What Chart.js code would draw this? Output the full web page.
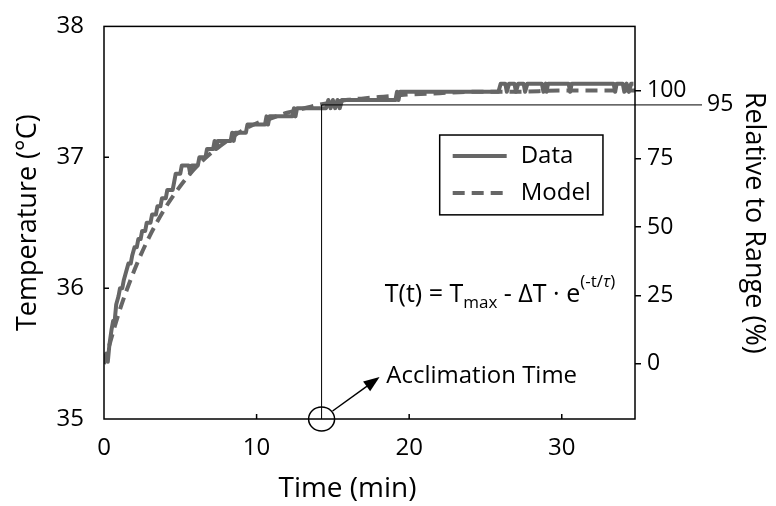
<!DOCTYPE html>
<html>
<head>
  <title>Acclimation Time</title>
  <script src="https://cdn.jsdelivr.net/npm/chart.js"></script>
  <style>body { margin: 0; background: #fff; }</style>
</head>
<body>
<canvas id="myChart" width="776" height="506"></canvas>
<script>
// measured temperature (sensor steps of 1/16 degC)
const timeMin = [0.00, 0.15, 0.25, 0.35, 0.50, 0.60, 0.70, 0.80, 0.95, 1.05, 1.20, 1.30, 1.45, 1.60, 1.75, 1.85,
  2.00, 2.15, 2.25, 2.40, 2.50, 2.70, 2.80, 3.05, 3.15, 3.40, 3.50, 3.70, 3.80, 4.05, 4.15, 4.50, 4.60, 4.70,
  5.00, 5.10, 5.55, 5.65, 5.75, 6.15, 6.25, 6.65, 6.75, 7.15, 7.25, 7.35, 7.45, 8.30, 8.40, 8.50, 8.60, 9.30,
  9.40, 10.55, 10.65, 10.75, 10.85, 12.35, 12.45, 12.55, 12.65, 14.55, 14.70, 14.85, 15.00, 15.15, 15.30,
  15.45, 15.60, 19.10, 19.20, 19.30, 19.40, 25.85, 26.00, 26.30, 26.40, 26.55, 26.90, 27.00, 27.15, 27.50,
  27.60, 27.75, 28.70, 28.80, 28.95, 29.00, 29.10, 30.45, 30.55, 30.65, 33.40, 33.50, 33.60, 34.00, 34.10,
  34.25, 34.40, 34.55, 34.70];
const tempData = [35.4375, 35.5, 35.4375, 35.5625, 35.6875, 35.75, 35.75, 35.875, 35.9375, 36.0, 36.0, 36.0625,
  36.125, 36.1875, 36.1875, 36.25, 36.3125, 36.3125, 36.375, 36.375, 36.4375, 36.4375, 36.5, 36.5, 36.5625,
  36.5625, 36.625, 36.625, 36.6875, 36.6875, 36.75, 36.75, 36.8125, 36.875, 36.875, 36.9375, 36.9375, 36.875,
  36.9375, 36.9375, 37.0, 37.0, 37.0625, 37.0625, 37.125, 37.0625, 37.125, 37.125, 37.1875, 37.125, 37.1875,
  37.1875, 37.25, 37.25, 37.3125, 37.25, 37.3125, 37.3125, 37.375, 37.3125, 37.375, 37.375, 37.4375, 37.375,
  37.4375, 37.375, 37.4375, 37.375, 37.4375, 37.4375, 37.5, 37.4375, 37.5, 37.5, 37.5625, 37.5625, 37.5,
  37.5625, 37.5625, 37.5, 37.5625, 37.5625, 37.5, 37.5625, 37.5625, 37.5, 37.5625, 37.5, 37.5625, 37.5625,
  37.5, 37.5625, 37.5625, 37.5, 37.5625, 37.5625, 37.5, 37.5625, 37.5, 37.5625, 37.5625];

// fitted model curve
const modelTime = [0, 1, 2, 3, 4, 5, 6, 7, 8, 9, 10, 11, 12, 13, 14, 15, 16, 17, 18, 19, 20, 22, 24, 27, 30, 34.8];
const modelTemp = [35.42, 35.82, 36.14, 36.40, 36.61, 36.78, 36.92, 37.03, 37.12, 37.20, 37.26, 37.30, 37.34,
  37.37, 37.40, 37.42, 37.44, 37.45, 37.46, 37.47, 37.48, 37.49, 37.50, 37.50, 37.51, 37.51];

const timeTicks = [0, 10, 20, 30];
const tempTicks = [35, 36, 37, 38];
const rangeTicks = [0, 25, 50, 75, 100];

const acclimationTime = 14.26;
const temp95 = 37.40;

const FONT = "'Open Sans', 'DejaVu Sans', sans-serif";
const GREY = '#666666';

const overlay = {
  id: 'overlay',
  afterDatasetsDraw(chart) {
    const { ctx, chartArea: a, scales: { x, y } } = chart;
    ctx.save();
    ctx.strokeStyle = '#000';
    ctx.fillStyle = '#000';

    // frame
    ctx.lineWidth = 1.5;
    ctx.strokeRect(a.left, a.top, a.right - a.left, a.bottom - a.top);

    // inward tick marks
    ctx.beginPath();
    tempTicks.slice(1, -1).forEach(v => {
      const py = y.getPixelForValue(v);
      ctx.moveTo(a.left, py); ctx.lineTo(a.left + 5, py);
    });
    timeTicks.slice(1).forEach(v => {
      const px = x.getPixelForValue(v);
      ctx.moveTo(px, a.bottom); ctx.lineTo(px, a.bottom - 5);
    });
    ctx.stroke();

    // x axis title (sits a bit left of centre in the original)
    ctx.font = '28px ' + FONT;
    ctx.textAlign = 'center';
    ctx.textBaseline = 'middle';
    ctx.fillText('Time (min)', (a.left + a.right) / 2 - 22, 489);

    // acclimation lines
    const ax = x.getPixelForValue(acclimationTime);
    const ty = y.getPixelForValue(temp95);
    ctx.lineWidth = 1;
    ctx.beginPath();
    ctx.moveTo(ax, a.bottom); ctx.lineTo(ax, ty); ctx.lineTo(a.right + 67, ty);
    ctx.stroke();
    ctx.font = '23px ' + FONT;
    ctx.textAlign = 'left';
    ctx.fillText('95', a.right + 72, ty);

    // circle + arrow
    ctx.lineWidth = 1.5;
    ctx.beginPath();
    ctx.ellipse(ax, a.bottom, 13, 12, 0, 0, Math.PI * 2);
    ctx.stroke();
    const x0 = ax + 11, y0 = a.bottom - 8, x1 = ax + 58, y1 = a.bottom - 42;
    const ang = Math.atan2(y1 - y0, x1 - x0);
    ctx.beginPath();
    ctx.moveTo(x0, y0); ctx.lineTo(x1 - 12 * Math.cos(ang), y1 - 12 * Math.sin(ang));
    ctx.stroke();
    ctx.beginPath();
    ctx.moveTo(x1, y1);
    ctx.lineTo(x1 - 16 * Math.cos(ang) + 6 * Math.sin(ang), y1 - 16 * Math.sin(ang) - 6 * Math.cos(ang));
    ctx.lineTo(x1 - 16 * Math.cos(ang) - 6 * Math.sin(ang), y1 - 16 * Math.sin(ang) + 6 * Math.cos(ang));
    ctx.closePath();
    ctx.fill();

    ctx.font = '24px ' + FONT;
    ctx.fillText('Acclimation Time', x.getPixelForValue(18.5), y.getPixelForValue(35.33));

    // equation
    let ex = x.getPixelForValue(18.4);
    const ey = y.getPixelForValue(35.96) + 2;
    const big = '25px ' + FONT, small = '17px ' + FONT;
    const put = (txt, font, dy) => {
      ctx.font = font;
      ctx.fillText(txt, ex, ey + dy);
      ex += ctx.measureText(txt).width;
    };
    put('T(t) = T', big, 0);
    put('max', small, 8);
    put(' - \u0394T \u00b7 e', big, 0);
    put('(-t/', small, -13);
    put('\u03c4', 'italic ' + small, -13);
    put(')', small, -13);

    // legend
    const lx = x.getPixelForValue(22.0), rx = x.getPixelForValue(32.7);
    const ly = y.getPixelForValue(37.17), by = y.getPixelForValue(36.56);
    ctx.lineWidth = 1.5;
    ctx.strokeRect(lx, ly, rx - lx, by - ly);
    chart.data.datasets.forEach((ds, i) => {
      const yy = ly + 21 + i * 37;
      ctx.strokeStyle = ds.borderColor;
      ctx.lineWidth = ds.borderWidth;
      ctx.setLineDash(ds.borderDash || []);
      ctx.beginPath();
      ctx.moveTo(lx + 13, yy); ctx.lineTo(lx + 67, yy);
      ctx.stroke();
      ctx.setLineDash([]);
      ctx.fillStyle = '#000';
      ctx.font = '24px ' + FONT;
      ctx.fillText(ds.label, lx + 81, yy);
    });
    ctx.restore();
  }
};

new Chart(document.getElementById('myChart'), {
  type: 'scatter',
  data: {
    datasets: [
      {
        label: 'Data',
        data: timeMin.map((t, i) => ({ x: t, y: tempData[i] })),
        showLine: true, borderColor: GREY, borderWidth: 4, pointRadius: 0,
        borderJoinStyle: 'round', yAxisID: 'y'
      },
      {
        label: 'Model',
        data: modelTime.map((t, i) => ({ x: t, y: modelTemp[i] })),
        showLine: true, borderColor: GREY, borderWidth: 4, borderDash: [12, 7], pointRadius: 0,
        cubicInterpolationMode: 'monotone', yAxisID: 'y'
      }
    ]
  },
  options: {
    responsive: false,
    animation: false,
    layout: { padding: { top: 18 } },
    plugins: { legend: { display: false }, tooltip: { enabled: false } },
    scales: {
      x: {
        type: 'linear', min: 0, max: 34.8,
        afterBuildTicks: s => { s.ticks = timeTicks.map(v => ({ value: v })); },
        ticks: { font: { family: FONT, size: 24 }, color: '#000', padding: 7 },
        grid: { display: false }, border: { display: false },
        afterFit: s => { s.height = 87; }
      },
      y: {
        position: 'left', min: 35, max: 38,
        afterBuildTicks: s => { s.ticks = tempTicks.map(v => ({ value: v })); },
        ticks: { font: { family: FONT, size: 24 }, color: '#000', padding: 12 },
        grid: { display: false }, border: { display: false },
        title: { display: true, text: 'Temperature (\u00b0C)', color: '#000', font: { family: FONT, size: 27 }, padding: { top: 12 } },
        afterFit: s => { s.width = 104; }
      },
      y2: {
        position: 'right', min: -20.3, max: 123.5,
        afterBuildTicks: s => { s.ticks = rangeTicks.map(v => ({ value: v })); },
        ticks: { font: { family: FONT, size: 23 }, color: '#000', padding: 6 },
        grid: { drawOnChartArea: false, color: '#000', lineWidth: 1.5, tickLength: 6 },
        border: { display: false },
        title: { display: true, text: 'Relative to Range (%)', color: '#000', font: { family: FONT, size: 27 }, padding: { top: 6 } },
        afterFit: s => { s.width = 141; }
      }
    }
  },
  plugins: [overlay]
});
</script>
</body>
</html>
